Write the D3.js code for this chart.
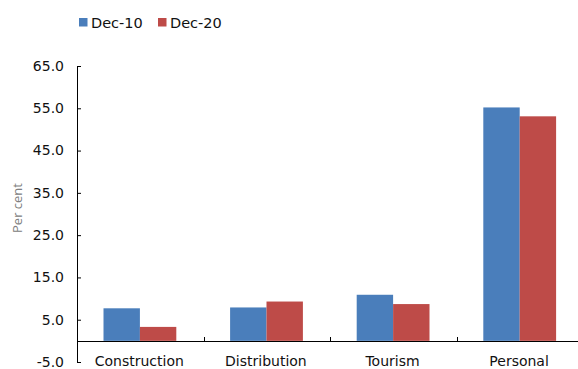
<!DOCTYPE html>
<html>
<head>
<meta charset="utf-8">
<script src="https://cdn.jsdelivr.net/npm/d3@7"></script>
<style>
  html, body { margin: 0; padding: 0; background: #fff; }
  svg { display: block; }
</style>
</head>
<body>
<svg id="chart" width="578" height="369"></svg>
<script>
// Sector shares of lending, per cent
const categories = ["Construction", "Distribution", "Tourism", "Personal"];
const seriesNames = ["Dec-10", "Dec-20"];
const dec10 = [7.7, 7.9, 10.9, 55.2];
const dec20 = [3.3, 9.3, 8.7, 53.1];
const yTicks = [-5, 5, 15, 25, 35, 45, 55, 65];
const colors = ["#4a7ebb", "#be4b48"];

const svg = d3.select("#chart");
const font = "DejaVu Sans, Verdana, sans-serif";

const left = 77, bandW = 126.6;
const x0 = d3.scaleBand().domain(categories).range([left, left + bandW * categories.length]).paddingInner(0).paddingOuter(0);
const x1 = d3.scaleBand().domain(seriesNames).range([26.5, 26.5 + 72.8]);
const y = d3.scaleLinear().domain([-5, 65]).range([362, 66]);

const rows = categories.map((c, i) => ({ cat: c, vals: [dec10[i], dec20[i]] }));

// bars
const g = svg.append("g");
rows.forEach(r => {
  r.vals.forEach((v, j) => {
    g.append("rect")
      .attr("x", x0(r.cat) + x1(seriesNames[j]))
      .attr("width", x1.bandwidth())
      .attr("y", y(Math.max(0, v)))
      .attr("height", Math.abs(y(v) - y(0)))
      .attr("fill", colors[j]);
  });
});

// y axis
const yAxis = d3.axisRight(y).tickValues(yTicks).tickSize(4).tickFormat("");
const ya = svg.append("g").attr("transform", `translate(${left},0)`).call(yAxis);
ya.select(".domain").remove();
ya.selectAll("line").attr("stroke", "#000");
svg.append("line").attr("x1", left + 0.5).attr("x2", left + 0.5).attr("y1", y(65)).attr("y2", y(-5)).attr("stroke", "#000");

svg.append("g").selectAll("text").data(yTicks).join("text")
  .attr("x", 64).attr("y", d => y(d)).attr("dy", "0.35em")
  .attr("text-anchor", "end")
  .attr("font-family", font).attr("font-size", 14).attr("fill", "#111")
  .text(d => d3.format(".1f")(d).replace("\u2212", "-"));

// x axis along zero
svg.append("line").attr("x1", left).attr("x2", 578).attr("y1", Math.round(y(0)) + 0.5).attr("y2", Math.round(y(0)) + 0.5).attr("stroke", "#000");
categories.slice(1).forEach(c => {
  const xx = Math.round(x0(c)) + 0.5;
  svg.append("line").attr("x1", xx).attr("x2", xx).attr("y1", Math.round(y(0))).attr("y2", Math.round(y(0)) - 4).attr("stroke", "#000");
});
svg.append("g").selectAll("text").data(categories).join("text")
  .attr("x", d => x0(d) + x0.bandwidth() / 2 - 1).attr("y", 366)
  .attr("text-anchor", "middle")
  .attr("font-family", font).attr("font-size", 14).attr("fill", "#111")
  .text(d => d);

// y axis title
svg.append("text")
  .attr("transform", "translate(22,208) rotate(-90)")
  .attr("text-anchor", "middle")
  .attr("font-family", "Open Sans, sans-serif").attr("font-size", 13).attr("fill", "#808080")
  .text("Per cent");

// legend
const legendX = [79, 158];
seriesNames.forEach((s, j) => {
  svg.append("rect").attr("x", legendX[j]).attr("y", 18).attr("width", 8.5).attr("height", 8.5).attr("fill", colors[j]);
  svg.append("text").attr("x", legendX[j] + 12).attr("y", 27.5)
    .attr("font-family", font).attr("font-size", 14.5).attr("fill", "#111")
    .text(s);
});
</script>
</body>
</html>
